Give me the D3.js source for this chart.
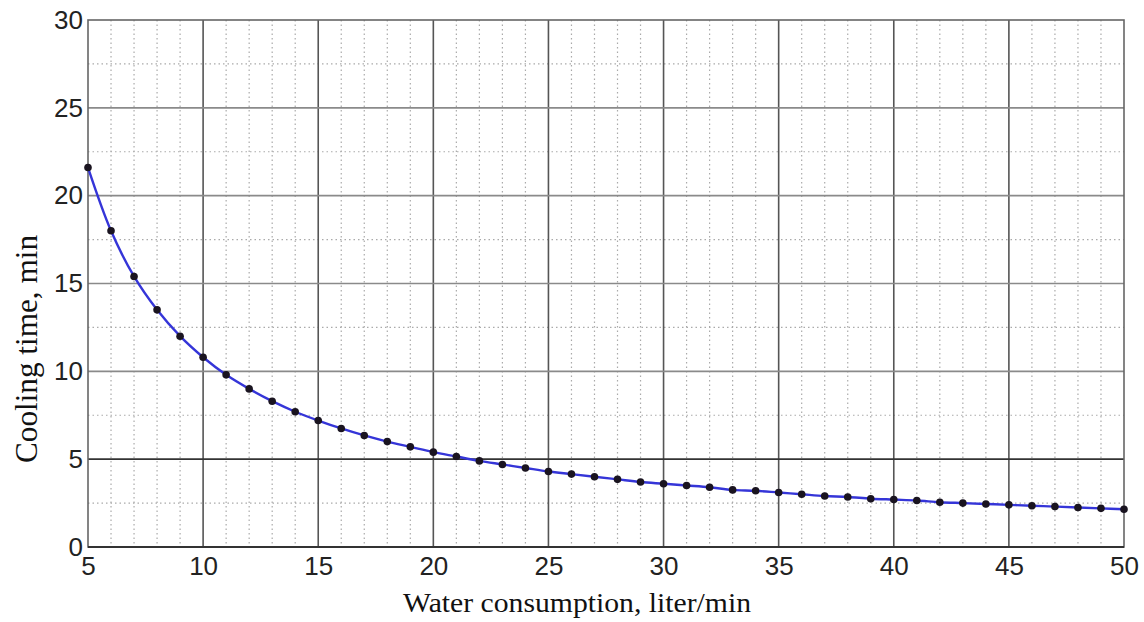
<!DOCTYPE html>
<html>
<head>
<meta charset="utf-8">
<script src="https://cdnjs.cloudflare.com/ajax/libs/d3/7.8.5/d3.min.js"></script>
<style>
  body { margin: 0; background: #fff; }
  svg { display: block; }
</style>
</head>
<body>
<svg id="chart" width="1144" height="622"></svg>
<script>
// data
var flowRates = [5,6,7,8,9,10,11,12,13,14,15,16,17,18,19,20,21,22,23,24,25,26,27,28,29,30,
                 31,32,33,34,35,36,37,38,39,40,41,42,43,44,45,46,47,48,49,50];
var coolingTimes = [21.6,18.0,15.4,13.5,12.0,10.8,9.8,9.0,8.3,7.7,7.2,6.75,6.35,6.0,5.7,5.4,5.15,4.9,4.7,4.5,4.3,
                    4.15,4.0,3.85,3.7,3.6,3.5,3.4,3.25,3.2,3.1,3.0,2.9,2.85,2.75,2.7,2.65,2.55,2.5,2.45,
                    2.4,2.35,2.3,2.25,2.2,2.15];
var xTicks = [5,10,15,20,25,30,35,40,45,50];
var yTicks = [0,5,10,15,20,25,30];
var xMinor = [6,7,8,9,11,12,13,14,16,17,18,19,21,22,23,24,26,27,28,29,31,32,33,34,36,37,38,39,41,42,43,44,46,47,48,49];
var yMinor = [2.5,7.5,12.5,17.5,22.5,27.5];

var plotL = 88, plotR = 1124, plotT = 20, plotB = 547;

var svg = d3.select('#chart');

var x = d3.scaleLinear().domain([5, 50]).range([plotL, plotR]);
var y = d3.scaleLinear().domain([0, 30]).range([plotB, plotT]);

var grid = svg.append('g');

// minor dotted grid
grid.selectAll('.vmin').data(xMinor).enter().append('line')
  .attr('x1', function(d){ return x(d); }).attr('x2', function(d){ return x(d); })
  .attr('y1', plotT).attr('y2', plotB)
  .attr('stroke', '#aaa').attr('stroke-width', 1.2)
  .attr('stroke-dasharray', '1.5,3');
grid.selectAll('.hmin').data(yMinor).enter().append('line')
  .attr('x1', plotL).attr('x2', plotR)
  .attr('y1', function(d){ return y(d); }).attr('y2', function(d){ return y(d); })
  .attr('stroke', '#aaa').attr('stroke-width', 1.2)
  .attr('stroke-dasharray', '1.5,3');

// major grid
grid.selectAll('.vmaj').data(xTicks.slice(1, -1)).enter().append('line')
  .attr('x1', function(d){ return x(d); }).attr('x2', function(d){ return x(d); })
  .attr('y1', plotT).attr('y2', plotB)
  .attr('stroke', '#555').attr('stroke-width', 1.6);
grid.selectAll('.hmaj').data(yTicks.slice(1, -1)).enter().append('line')
  .attr('x1', plotL).attr('x2', plotR)
  .attr('y1', function(d){ return y(d); }).attr('y2', function(d){ return y(d); })
  .attr('stroke', function(d){ return d === 5 ? '#333' : '#8a8a8a'; })
  .attr('stroke-width', 1.6);

// frame
svg.append('rect')
  .attr('x', plotL).attr('y', plotT)
  .attr('width', plotR - plotL).attr('height', plotB - plotT)
  .attr('fill', 'none').attr('stroke', '#666').attr('stroke-width', 1.6);
svg.append('line')
  .attr('x1', plotL).attr('x2', plotR).attr('y1', plotB).attr('y2', plotB)
  .attr('stroke', '#333').attr('stroke-width', 2);

// axes (labels only)
var xAxis = svg.append('g')
  .attr('transform', 'translate(0,' + plotB + ')')
  .call(d3.axisBottom(x).tickValues(xTicks).tickSize(0).tickPadding(10));
var yAxis = svg.append('g')
  .attr('transform', 'translate(' + plotL + ',0)')
  .call(d3.axisLeft(y).tickValues(yTicks).tickSize(0).tickPadding(5));
[xAxis, yAxis].forEach(function(a){
  a.select('.domain').remove();
  a.selectAll('text')
    .attr('font-family', '"Liberation Sans", Arial, sans-serif')
    .attr('font-size', 26).attr('fill', '#222');
});

// curve
var pts = flowRates.map(function(v, i){ return [v, coolingTimes[i]]; });
svg.append('path')
  .datum(pts)
  .attr('fill', 'none').attr('stroke', '#3535d8').attr('stroke-width', 2.4)
  .attr('d', d3.line()
    .x(function(d){ return x(d[0]); })
    .y(function(d){ return y(d[1]); })
    .curve(d3.curveCatmullRom));

svg.selectAll('.pt').data(pts).enter().append('circle')
  .attr('cx', function(d){ return x(d[0]); })
  .attr('cy', function(d){ return y(d[1]); })
  .attr('r', 3.8).attr('fill', '#1a1420');

// titles
svg.append('text')
  .attr('x', 577).attr('y', 612)
  .attr('text-anchor', 'middle')
  .attr('font-family', '"Liberation Serif", "Times New Roman", serif')
  .attr('font-size', 28).attr('fill', '#111')
  .attr('textLength', 348).attr('lengthAdjust', 'spacingAndGlyphs')
  .text('Water consumption, liter/min');
svg.append('text')
  .attr('transform', 'translate(37,349) rotate(-90)')
  .attr('text-anchor', 'middle')
  .attr('font-family', '"Liberation Serif", "Times New Roman", serif')
  .attr('font-size', 31).attr('fill', '#111')
  .attr('textLength', 228).attr('lengthAdjust', 'spacingAndGlyphs')
  .text('Cooling time, min');
</script>
</body>
</html>
